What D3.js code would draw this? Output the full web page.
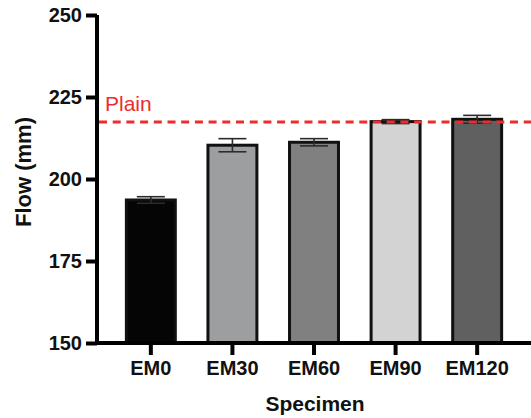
<!DOCTYPE html>
<html>
<head>
<meta charset="utf-8">
<script src="https://cdn.jsdelivr.net/npm/d3@7"></script>
<style>
  body { margin: 0; background: #fff; }
  svg { display: block; font-family: Arial, "Liberation Sans", sans-serif; }
</style>
</head>
<body>
<svg id="chart" width="531" height="418"></svg>
<script>
   // data
   var specimens = ["EM0", "EM30", "EM60", "EM90", "EM120"];
   var flowMeans = [193.6, 210.3, 211.2, 217.5, 218.2];
   var flowErrors = [1.0, 2.0, 1.1, 0.6, 1.2];
   var barColors = ["#050505", "#9d9ea0", "#808080", "#d3d3d3", "#5f605f"];
   var plainFlow = 217.4;
   var yTicks = [150, 175, 200, 225, 250];

   var svg = d3.select("#chart");

   var plotLeft = 97, plotRight = 531, plotTop = 15, plotBottom = 343;

   var x = d3.scaleBand()
      .domain(specimens)
      .range([plotLeft, plotRight])
      .paddingInner(0.4)
      .paddingOuter(0.36);

   var y = d3.scaleLinear()
      .domain([150, 250])
      .range([plotBottom, plotTop]);

   var rows = specimens.map(function(s, i) {
      return { name: s, mean: flowMeans[i], err: flowErrors[i], color: barColors[i] };
   });

   // bars
   svg.append("g")
      .selectAll("rect")
      .data(rows)
      .enter()
      .append("rect")
      .attr("x", function(d) { return x(d.name); })
      .attr("y", function(d) { return y(d.mean); })
      .attr("width", x.bandwidth())
      .attr("height", function(d) { return y(150) - y(d.mean); })
      .attr("fill", function(d) { return d.color; })
      .attr("stroke", "#111")
      .attr("stroke-width", 3);

   // error bars
   var capHalf = 14;
   var errG = svg.append("g")
      .attr("stroke", "#2b2b2b")
      .attr("stroke-width", 1.6);

   rows.forEach(function(d) {
      var cx = x(d.name) + x.bandwidth() / 2;
      errG.append("line")
         .attr("x1", cx).attr("x2", cx)
         .attr("y1", y(d.mean + d.err)).attr("y2", y(d.mean - d.err));
      errG.append("line")
         .attr("x1", cx - capHalf).attr("x2", cx + capHalf)
         .attr("y1", y(d.mean + d.err)).attr("y2", y(d.mean + d.err));
      errG.append("line")
         .attr("x1", cx - capHalf).attr("x2", cx + capHalf)
         .attr("y1", y(d.mean - d.err)).attr("y2", y(d.mean - d.err));
   });

   // plain reference line
   svg.append("line")
      .attr("x1", plotLeft + 2).attr("x2", plotRight)
      .attr("y1", y(plainFlow)).attr("y2", y(plainFlow))
      .attr("stroke", "#ee2b2e")
      .attr("stroke-width", 3)
      .attr("stroke-dasharray", "8,5.7");

   svg.append("text")
      .attr("x", 105)
      .attr("y", y(plainFlow) - 11)
      .attr("fill", "#ee2b2e")
      .style("font-size", "21px")
      .text("Plain");

   // axes
   var yAxis = svg.append("g")
      .attr("transform", "translate(" + plotLeft + ",0)")
      .call(d3.axisLeft(y).tickValues(yTicks).tickSize(11).tickPadding(4));

   var xAxis = svg.append("g")
      .attr("transform", "translate(0," + plotBottom + ")")
      .call(d3.axisBottom(x).tickSize(12).tickPadding(6));

   [yAxis, xAxis].forEach(function(ax) {
      ax.attr("font-size", null).attr("font-family", null);
      ax.select(".domain")
         .attr("stroke", "#000")
         .attr("stroke-width", 4);
      ax.selectAll(".tick line")
         .attr("stroke", "#000")
         .attr("stroke-width", 4);
      ax.selectAll(".tick text")
         .attr("fill", "#111")
         .style("font-size", "20px")
         .style("font-weight", "bold");
   });

   // flat ends for the axis lines
   yAxis.select(".domain").attr("d", "M0," + plotTop + "V" + plotBottom);
   xAxis.select(".domain").attr("d", "M" + (plotLeft - 2) + ",0H" + plotRight);

   // axis titles
   svg.append("text")
      .attr("transform", "translate(31,172) rotate(-90)")
      .attr("text-anchor", "middle")
      .style("font-size", "22px")
      .style("font-weight", "bold")
      .attr("fill", "#111")
      .text("Flow (mm)");

   svg.append("text")
      .attr("x", 315)
      .attr("y", 411)
      .attr("text-anchor", "middle")
      .style("font-size", "21px")
      .style("font-weight", "bold")
      .attr("fill", "#111")
      .text("Specimen");
</script>
</body>
</html>
